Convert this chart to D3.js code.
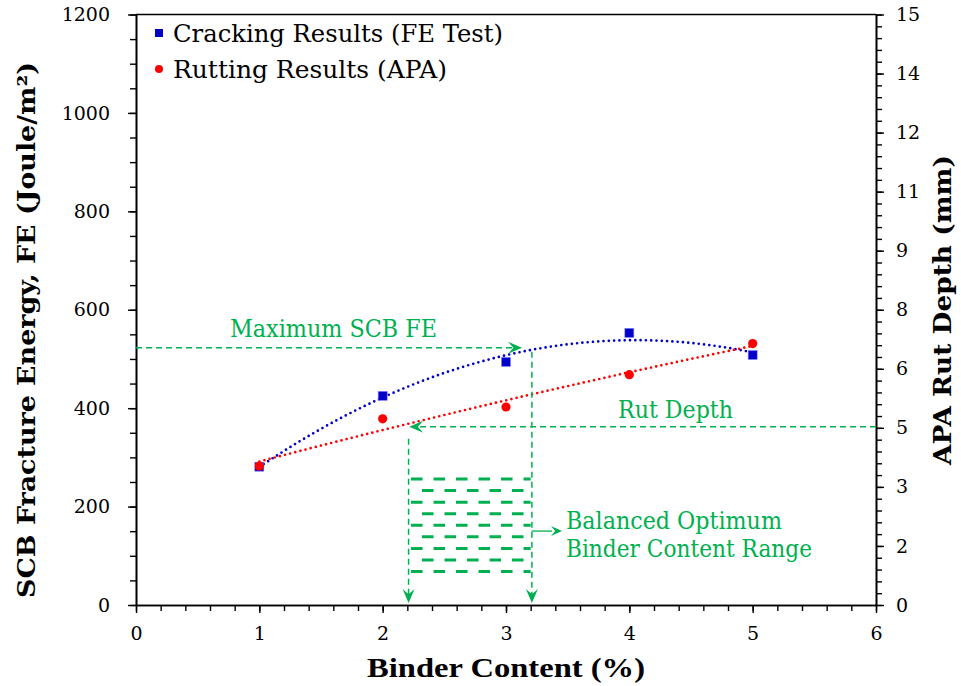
<!DOCTYPE html>
<html><head><meta charset="utf-8">
<script src="https://cdn.jsdelivr.net/npm/d3@7"></script>
<style>body{margin:0;background:#fff}svg{display:block}</style>
</head><body>
<svg id="c" width="961" height="686"></svg>
<script>
// ---- data ----
const binderContent = [1, 2, 3, 4, 5];
const crackingFE = [281, 425, 494, 553, 508];       // SCB fracture energy (J/m²)
const rutDepth = [3.53, 4.73, 5.03, 5.85, 6.64];     // APA rut depth (mm)
const xTicks = [0, 1, 2, 3, 4, 5, 6];
const yLeftTicks = [0, 200, 400, 600, 800, 1000, 1200];
const yRightTicks = [0, 1.5, 3, 4.5, 6, 7.5, 9, 10.5, 12, 13.5, 15];
const legendLabels = ["Cracking Results (FE Test)", "Rutting Results (APA)"];
// annotation (data units)
const maxFE = 523, maxFEx = 3.21, maxFEtip = 3.13;
const rutLevel = 4.53, rutX = 2.21, rutTip = 2.215;
const bandX = [2.23, 3.2], bandFE = [256, 68], bandRows = 9;

const svg = d3.select("#c");
const green = "#00b050", blue = "#0000c8", red = "#ff0000";
const serif = "'DejaVu Serif', 'Liberation Serif', serif";

const x = d3.scaleLinear().domain([0, 6]).range([136, 876]);
const yL = d3.scaleLinear().domain([0, 1200]).range([605, 14.5]);
const yR = d3.scaleLinear().domain([0, 15]).range([605, 14.5]);

// frame
svg.append("line").attr("x1", x(0)).attr("x2", x(6)).attr("y1", yL(1200)).attr("y2", yL(1200))
  .attr("stroke", "#000").attr("stroke-width", 1.6);

// axes
function styleAxis(g) {
  g.select(".domain").attr("stroke", "#000").attr("stroke-width", 1.6);
  g.selectAll(".tick line").attr("stroke", "#000").attr("stroke-width", 1.4);
}
// minor ticks
const gx = svg.append("g").attr("transform", "translate(0,605)");
gx.call(d3.axisBottom(x).tickValues(d3.range(0, 6.001, 0.2)).tickSize(6).tickFormat("").tickSizeOuter(0));
gx.call(styleAxis);
const gx2 = svg.append("g").attr("transform", "translate(0,605)");
gx2.call(d3.axisBottom(x).tickValues(xTicks).tickSize(8).tickFormat(d3.format("d")).tickPadding(14).tickSizeOuter(0));
gx2.call(styleAxis);
gx2.selectAll("text").attr("font-family", serif).attr("font-size", 19).attr("fill", "#000");

const gl = svg.append("g").attr("transform", "translate(136,0)");
gl.call(d3.axisLeft(yL).tickValues(d3.range(0, 1200.1, 50)).tickSize(6).tickFormat("").tickSizeOuter(0));
gl.call(styleAxis);
const gl2 = svg.append("g").attr("transform", "translate(136,0)");
gl2.call(d3.axisLeft(yL).tickValues(yLeftTicks).tickSize(8).tickPadding(18).tickFormat(d3.format("d")).tickSizeOuter(0));
gl2.call(styleAxis);
gl2.selectAll("text").attr("font-family", serif).attr("font-size", 19).attr("fill", "#000");

const gr = svg.append("g").attr("transform", "translate(876,0)");
gr.call(d3.axisRight(yR).tickValues(d3.range(0, 15.001, 0.3)).tickSize(6).tickFormat("").tickSizeOuter(0));
gr.call(styleAxis);
const gr2 = svg.append("g").attr("transform", "translate(876,0)");
gr2.call(d3.axisRight(yR).tickValues(yRightTicks).tickSize(8).tickPadding(12)
  .tickFormat(d => String(Math.round(d))).tickSizeOuter(0));
gr2.call(styleAxis);
gr2.selectAll("text").attr("font-family", serif).attr("font-size", 19).attr("fill", "#000");

// axis titles
svg.append("text").attr("transform", "translate(35,330) rotate(-90)").attr("text-anchor", "middle")
  .attr("font-family", serif).attr("font-weight", "bold").attr("font-size", 24)
  .attr("textLength", 536).attr("lengthAdjust", "spacingAndGlyphs")
  .text("SCB Fracture Energy, FE (Joule/m²)");
svg.append("text").attr("transform", "translate(951,310) rotate(-90)").attr("text-anchor", "middle")
  .attr("font-family", serif).attr("font-weight", "bold").attr("font-size", 24)
  .attr("textLength", 310).attr("lengthAdjust", "spacingAndGlyphs")
  .text("APA Rut Depth (mm)");
svg.append("text").attr("x", 506).attr("y", 677).attr("text-anchor", "middle")
  .attr("font-family", "'Liberation Serif', serif").attr("font-weight", "bold").attr("font-size", 28)
  .attr("textLength", 278).attr("lengthAdjust", "spacingAndGlyphs")
  .text("Binder Content (%)");

// quadratic trendline (least squares)
function quadFit(xs, ys) {
  const n = xs.length, mx = d3.mean(xs);
  const t = xs.map(v => v - mx);
  const St2 = d3.sum(t, v => v * v), St4 = d3.sum(t, v => v ** 4);
  const Sy = d3.sum(ys);
  const b = d3.sum(t.map((v, i) => v * ys[i])) / St2;
  const c = (d3.sum(t.map((v, i) => v * v * ys[i])) - St2 / n * Sy) / (St4 - St2 * St2 / n);
  const a = Sy / n - c * St2 / n;
  return v => a + b * (v - mx) + c * (v - mx) ** 2;
}
const fBlue = quadFit(binderContent, crackingFE);
const fRed = quadFit(binderContent, rutDepth);
const xs = d3.range(1, 5.0001, 0.05);
svg.append("path").attr("d", d3.line().x(d => x(d)).y(d => yL(fBlue(d)))(xs))
  .attr("fill", "none").attr("stroke", blue).attr("stroke-width", 2.7)
  .attr("stroke-linecap", "round").attr("stroke-dasharray", "0,5.3");
svg.append("path").attr("d", d3.line().x(d => x(d)).y(d => yR(fRed(d)))(xs))
  .attr("fill", "none").attr("stroke", red).attr("stroke-width", 2.7)
  .attr("stroke-linecap", "round").attr("stroke-dasharray", "0,5.3");

// points
svg.append("g").selectAll("rect").data(binderContent).join("rect")
  .attr("x", (d) => x(d) - 4.5).attr("y", (d, i) => yL(crackingFE[i]) - 4.5)
  .attr("width", 9).attr("height", 9).attr("fill", blue).attr("stroke", "#8080ff").attr("stroke-width", 0.6);
svg.append("g").selectAll("circle").data(binderContent).join("circle")
  .attr("cx", d => x(d)).attr("cy", (d, i) => yR(rutDepth[i])).attr("r", 4.6).attr("fill", red);

// legend
svg.append("rect").attr("x", 155).attr("y", 29).attr("width", 8).attr("height", 8).attr("fill", blue);
svg.append("circle").attr("cx", 159).attr("cy", 69).attr("r", 4).attr("fill", red);
svg.append("text").attr("x", 173).attr("y", 42).attr("font-family", serif).attr("font-size", 25)
  .attr("textLength", 330).attr("lengthAdjust", "spacingAndGlyphs").text(legendLabels[0]);
svg.append("text").attr("x", 173).attr("y", 78).attr("font-family", serif).attr("font-size", 25)
  .attr("textLength", 274).attr("lengthAdjust", "spacingAndGlyphs").text(legendLabels[1]);

// annotations
const ann = svg.append("g");
function dashed(x1, y1, x2, y2) {
  ann.append("line").attr("x1", x1).attr("y1", y1).attr("x2", x2).attr("y2", y2)
    .attr("stroke", green).attr("stroke-width", 1.5).attr("stroke-dasharray", "6,4");
}
function arrow(tx, ty, ang, L = 14, W = 6) {
  // stealth arrow pointing in direction ang (radians)
  const ca = Math.cos(ang), sa = Math.sin(ang);
  const p = (u, v) => [tx + u * ca - v * sa, ty + u * sa + v * ca];
  const pts = [p(0, 0), p(-L, -W), p(-L * 0.62, 0), p(-L, W)];
  ann.append("path").attr("d", "M" + pts.map(q => q.join(",")).join("L") + "Z").attr("fill", green);
}
const yMax = yL(maxFE);
dashed(x(0), yMax, x(maxFEtip) - 4, yMax);
arrow(x(maxFEtip), yMax, 0);
dashed(x(maxFEx), yMax + 4, x(maxFEx), 603 - 6);
arrow(x(maxFEx), 603, Math.PI / 2);
const yRut = yR(rutLevel);
dashed(x(6), yRut, x(rutTip) + 4, yRut);
arrow(x(rutTip), yRut, Math.PI);
dashed(x(rutX), yRut + 12, x(rutX), 603 - 6);
arrow(x(rutX), 603, Math.PI / 2);

// balanced range band
const rowY = d3.range(bandRows).map(i => yL(bandFE[0]) + i * (yL(bandFE[1]) - yL(bandFE[0])) / (bandRows - 1));
rowY.forEach((yy, i) => {
  ann.append("line").attr("x1", x(bandX[0])).attr("x2", x(bandX[1])).attr("y1", yy).attr("y2", yy)
    .attr("stroke", green).attr("stroke-width", 3)
    .attr("stroke-dasharray", "11.5,11").attr("stroke-dashoffset", i % 2 ? 11.5 : 0);
});
const yArr = (rowY[4] + rowY[5]) / 2;
ann.append("line").attr("x1", x(bandX[1]) + 1).attr("x2", 552).attr("y1", yArr).attr("y2", yArr)
  .attr("stroke", green).attr("stroke-width", 1.3);
arrow(562, yArr, 0, 11, 5);

// annotation texts
const annText = (t, xx, yy, len) => ann.append("text").attr("x", xx).attr("y", yy)
  .attr("font-family", serif).attr("font-size", 23.5).attr("fill", green)
  .attr("textLength", len).attr("lengthAdjust", "spacingAndGlyphs").text(t);
annText("Maximum SCB FE", 230, 337, 207);
annText("Rut Depth", 618, 418, 115);
annText("Balanced Optimum", 566, 529, 216);
annText("Binder Content Range", 566, 557, 246);
</script>
</body></html>
